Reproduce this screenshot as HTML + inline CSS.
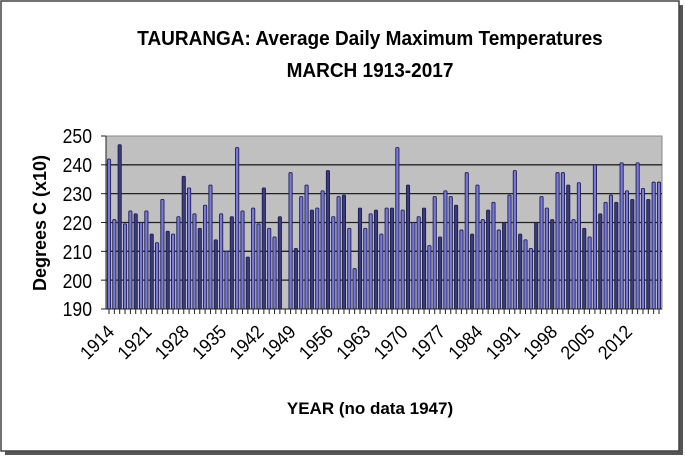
<!DOCTYPE html>
<html><head><meta charset="utf-8"><style>
html,body{margin:0;padding:0;background:#fff;width:685px;height:457px;overflow:hidden}
svg{display:block;font-family:"Liberation Sans",Arial,sans-serif}
</style></head><body>
<svg id="s" width="685" height="457" viewBox="0 0 685 457">
<rect x="5" y="5" width="678" height="450" fill="#555"/>
<rect x="1" y="1" width="678" height="450" fill="#fff" stroke="#444" stroke-width="1.5"/>
<text x="370" y="45" text-anchor="middle" font-size="20" font-weight="bold" transform="translate(370,0) scale(0.95,1) translate(-370,0)">TAURANGA: Average Daily Maximum  Temperatures</text>
<text x="370" y="77" text-anchor="middle" font-size="20" font-weight="bold" transform="translate(370,0) scale(0.95,1) translate(-370,0)">MARCH 1913-2017</text>
<rect x="106" y="136" width="556" height="173" fill="#c0c0c0" stroke="#888"/>
<g id="grid" stroke="#222" stroke-width="1.3"></g>
<g id="bars"></g>
<line x1="106" y1="136" x2="106" y2="309" stroke="#222"/>
<line x1="106" y1="309" x2="662" y2="309" stroke="#222"/>
<g id="ticks" stroke="#222" stroke-width="1"></g>
<g font-size="20" text-anchor="end" fill="#000" transform="translate(92,0) scale(0.88,1) translate(-92,0)">
<text x="92" y="143">250</text><text x="92" y="172">240</text><text x="92" y="201">230</text>
<text x="92" y="230">220</text><text x="92" y="259">210</text><text x="92" y="288">200</text><text x="92" y="316">190</text>
</g>
<text transform="translate(46,223) rotate(-90)" text-anchor="middle" font-size="18" font-weight="bold">Degrees C (x10)</text>
<g id="xl" font-size="19" text-anchor="end"></g>
<text x="370" y="414" text-anchor="middle" font-size="17" font-weight="bold">YEAR  (no data 1947)</text>
</svg>
<script>
var v=[242,221,247,219.5,224,223,220,224,216,213,228,217,216,222,236,232,223,218,226,233,214,223,210,222,246,224,208,225,219.5,232,218,215,222,null,237.3,211,229,233,224.3,225,231,238,222,229,229.5,218,204,225,218,223,224.3,216,225,225,246,224.3,233,220,222,225,212,229,215,231,229,226,217.4,237.3,216,233,221,224.3,227,217.4,220,229.5,238,216,214,211,220,229,225,221,237.3,237.3,233,221,233.8,218,215,240,223,227,229.5,227,240.7,231,228,240.7,231.8,228,234,234];
var ns="http://www.w3.org/2000/svg";function el(t,a,p){var e=document.createElementNS(ns,t);for(var k in a)e.setAttribute(k,a[k]);document.getElementById(p).appendChild(e);return e;}
var y0=309,pp=173/60;
for(var g=1;g<6;g++){var y=136+g*28.83;el('line',{x1:106,x2:662,y1:y,y2:y},'grid');}
for(g=0;g<7;g++){var y=136+g*28.83;el('line',{x1:101,x2:106,y1:y,y2:y},'ticks');}
var st=550/(v.length-1);
for(var i=0;i<v.length;i++){var x=109+i*st;el('line',{x1:x,x2:x,y1:309,y2:314},'ticks');
if(v[i]==null)continue;var h=(v[i]-190)*pp;
el('rect',{x:x-1.6,y:y0-h,width:3.2,height:h,fill:(i%3==2?'#3a3a80':'#7878e0'),stroke:'#20204a','stroke-width':0.9,rx:1},'bars');}
var yrs=[1914,1921,1928,1935,1942,1949,1956,1963,1970,1977,1984,1991,1998,2005,2012];
for(var j=0;j<yrs.length;j++){var idx=yrs[j]-1913;if(yrs[j]>1947)idx-=1;var x=109+idx*st+1;
var t=el('text',{transform:'translate('+x+',333) rotate(-45) scale(0.92,1)'},'xl');t.textContent=yrs[j];}
</script>
</body></html>
